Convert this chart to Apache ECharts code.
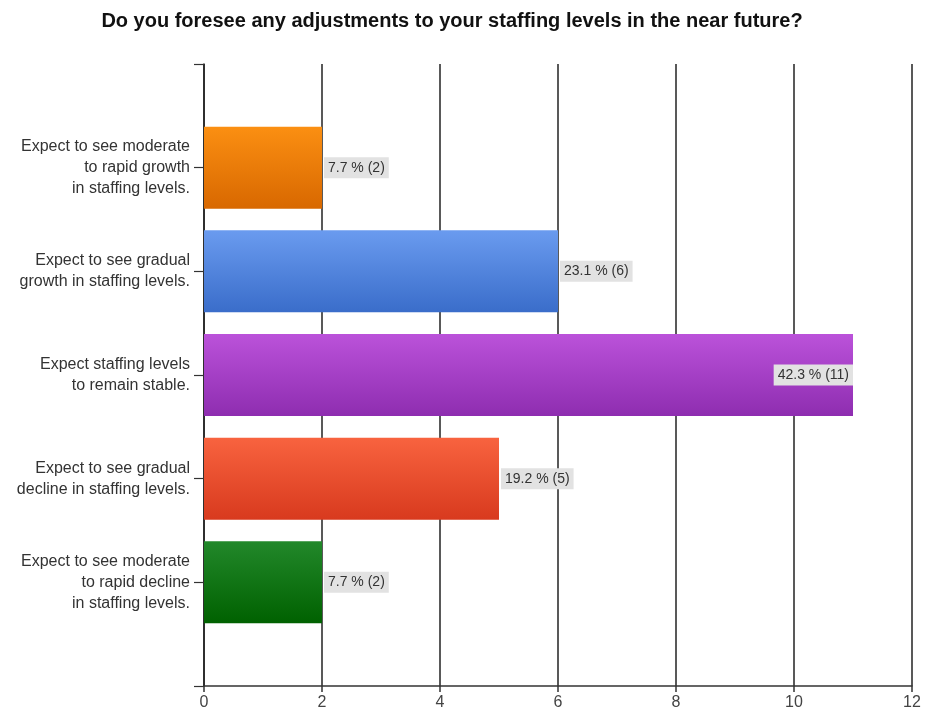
<!DOCTYPE html>
<html>
<head>
<meta charset="utf-8">
<script src="https://cdn.jsdelivr.net/npm/echarts@6/dist/echarts.min.js"></script>
<style>
  html, body { margin: 0; padding: 0; background: #fff; }
  #chart { width: 926px; height: 719px; }
</style>
</head>
<body>
<div id="chart"></div>
<script>
// Survey answers, top to bottom
const categories = [
  'Expect to see moderate\nto rapid growth\nin staffing levels.',
  'Expect to see gradual\ngrowth in staffing levels.',
  'Expect staffing levels\nto remain stable.',
  'Expect to see gradual\ndecline in staffing levels.',
  'Expect to see moderate\nto rapid decline\nin staffing levels.'
];
const counts = [2, 6, 11, 5, 2];
const percents = [7.7, 23.1, 42.3, 19.2, 7.7];
const xTicks = [0, 2, 4, 6, 8, 10, 12];

// gradient stops (top, bottom) for each bar
const barColors = [
  ['#fb8f12', '#d86800'],
  ['#6a9bef', '#3a6dca'],
  ['#bb52da', '#8e2db0'],
  ['#f8633f', '#d83a1e'],
  ['#22882a', '#006100']
];

const FONT = 'Liberation Sans, Arial, sans-serif';
const chart = echarts.init(document.getElementById('chart'));

// empty slots above and below give the half-band margins of the value axis
const yCats = [''].concat(categories, ['']);
const barData = [null].concat(counts.map((v, i) => ({
  value: v,
  itemStyle: {
    color: new echarts.graphic.LinearGradient(0, 0, 0, 1, [
      { offset: 0, color: barColors[i][0] },
      { offset: 1, color: barColors[i][1] }
    ])
  },
  label: v === Math.max(...counts)
    ? { position: 'insideRight', distance: 0 }
    : { position: 'right', distance: 2 }
})), [null]);

chart.setOption({
  animation: false,
  title: {
    text: 'Do you foresee any adjustments to your staffing levels in the near future?',
    left: 447,
    textAlign: 'center',
    top: 6,
    textStyle: { fontFamily: FONT, fontSize: 20, fontWeight: 'bold', color: '#111' }
  },
  grid: { left: 204, right: 14, top: 64, bottom: 33, containLabel: false },
  xAxis: {
    type: 'value',
    min: xTicks[0],
    max: xTicks[xTicks.length - 1],
    interval: 2,
    axisLine: { show: true, lineStyle: { color: '#333', width: 1.5 } },
    axisTick: { show: true, length: 6, lineStyle: { color: '#333', width: 1.5 } },
    axisLabel: { color: '#444', fontSize: 16, margin: 9, fontFamily: FONT },
    splitLine: { show: true, lineStyle: { color: '#222', width: 1.5 } }
  },
  yAxis: {
    type: 'category',
    data: yCats,
    inverse: true,
    boundaryGap: false,
    axisLine: { show: true, lineStyle: { color: '#222', width: 1.5 } },
    axisTick: { show: true, length: 10, inside: false, lineStyle: { color: '#333', width: 1.2 } },
    axisLabel: {
      color: '#333', fontSize: 16, margin: 14, align: 'right', lineHeight: 21,
      fontFamily: FONT
    },
    splitLine: { show: false }
  },
  series: [{
    type: 'bar',
    data: barData,
    barWidth: 82,
    label: {
      show: true,
      formatter: p => percents[p.dataIndex - 1] + ' % (' + counts[p.dataIndex - 1] + ')',
      backgroundColor: '#e2e2e2',
      color: '#333',
      fontSize: 14,
      padding: [4, 4, 3, 4],
      fontFamily: FONT
    }
  }]
});
</script>
</body>
</html>
